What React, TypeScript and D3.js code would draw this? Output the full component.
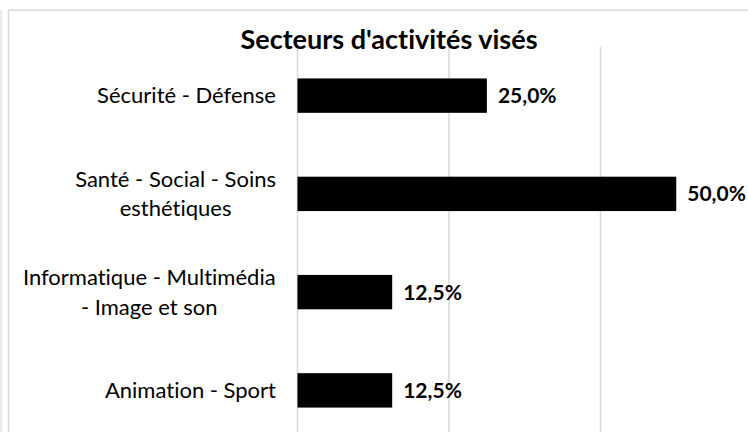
import React from "react";
import * as d3 from "d3";

const title = "Secteurs d'activités visés";
const categories = [
  "Sécurité - Défense",
  "Santé - Social - Soins\nesthétiques",
  "Informatique - Multimédia\n- Image et son",
  "Animation - Sport",
];
const values = [0.25, 0.5, 0.125, 0.125];
const gridTicks = [0, 0.2, 0.4, 0.6];

const W = 748;
const H = 432;
const FONT = "Lato, 'Open Sans', sans-serif";
const LABEL_SIZE = 22;
const VALUE_SIZE = 21;
const TITLE_SIZE = 27;

const locale = d3.formatLocale({ decimal: ",", thousands: " ", grouping: [3], currency: ["", "€"] });
const fmt = locale.format(".1%");

function measure(text: string, font: string): number {
  const c = document.createElement("canvas");
  const ctx = c.getContext("2d");
  if (!ctx) return text.length * 10;
  ctx.font = font;
  return ctx.measureText(text).width;
}

export default function App() {
  const x = d3.scaleLinear().domain([0, 0.6]).range([297.5, 752]);
  const y = d3
    .scaleBand<string>()
    .domain(categories)
    .range([46.5, 439.5])
    .paddingInner(0.65)
    .paddingOuter(0.325);

  const labelRight = 276;
  const lineGap = 29.7;

  return (
    <svg
      width={W}
      height={H}
      style={{ position: "absolute", left: 0, top: 0, background: "#fff", fontVariantLigatures: "none" }}
      fontFamily={FONT}
    >
      <rect x={0} y={0} width={W} height={H} fill="#fff" />
      <line x1={1} x2={1} y1={10} y2={H} stroke="#e3e3e3" strokeWidth={1.5} />
      <rect x={8.5} y={10.25} width={W + 20} height={H + 20} fill="none" stroke="#d9d9d9" strokeWidth={1.5} />

      {gridTicks.map((t) => (
        <line key={t} x1={x(t)} x2={x(t)} y1={47} y2={H} stroke="#d9d9d9" strokeWidth={1.5} />
      ))}

      <text x={389} y={49} textAnchor="middle" fontWeight="bold" fontSize={TITLE_SIZE} fill="#000">
        {title}
      </text>

      {categories.map((c, i) => {
        const y0 = y(c)!;
        const bw = y.bandwidth();
        const cy = y0 + bw / 2;
        const lines = c.split("\n");
        const font = `${LABEL_SIZE}px ${FONT}`;
        const maxW = Math.max(...lines.map((l) => measure(l, font)));
        const single = lines.length === 1;
        const cx = labelRight - maxW / 2;
        return (
          <g key={c}>
            <rect x={x(0)} y={y0} width={x(values[i]) - x(0)} height={bw} fill="#000" />
            {lines.map((l, j) => (
              <text
                key={j}
                x={single ? labelRight : cx}
                y={cy + (j - (lines.length - 1) / 2) * lineGap}
                dy="0.35em"
                textAnchor={single ? "end" : "middle"}
                fontSize={LABEL_SIZE}
                fill="#000"
              >
                {l}
              </text>
            ))}
            <text
              x={x(values[i]) + 11}
              y={cy}
              dy="0.36em"
              fontWeight="bold"
              fontSize={VALUE_SIZE}
              fill="#000"
            >
              {fmt(values[i])}
            </text>
          </g>
        );
      })}
    </svg>
  );
}
